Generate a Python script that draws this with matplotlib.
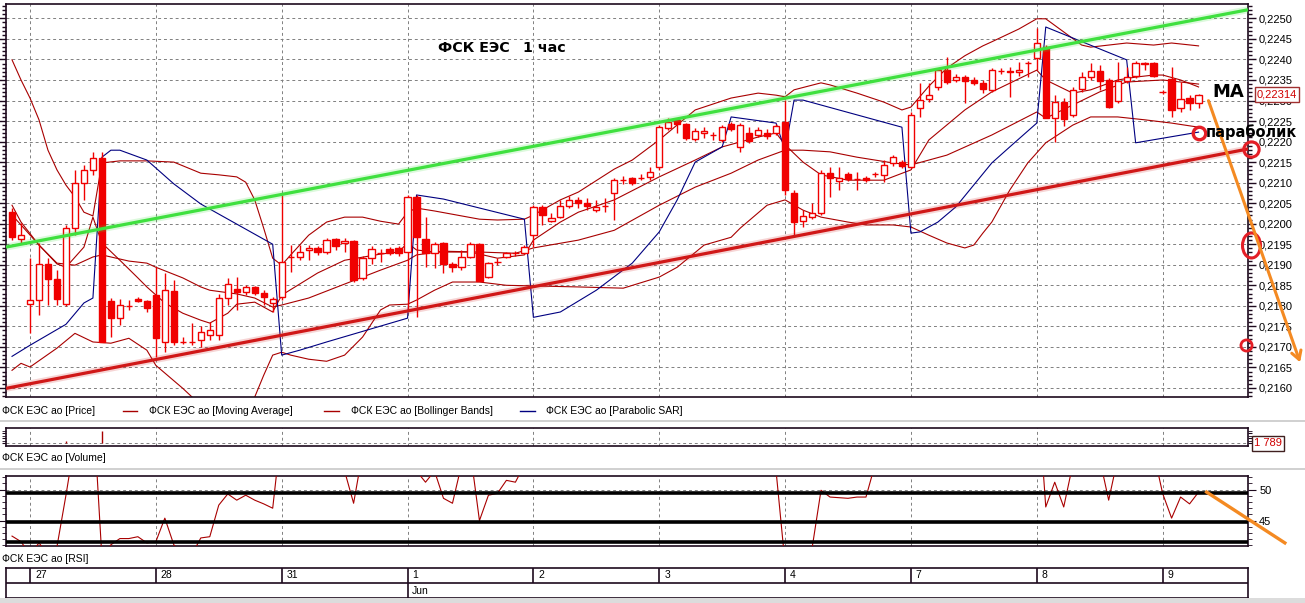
import numpy as np
import matplotlib
matplotlib.use('Agg')
import matplotlib.pyplot as plt
from matplotlib.lines import Line2D
from matplotlib.patches import Rectangle
from matplotlib.path import Path
from matplotlib.transforms import Affine2D
from matplotlib.ticker import MultipleLocator, FuncFormatter, FixedLocator

# ---------------- data ----------------
first_k = -2
opens = [0.22028,0.21963,0.21804,0.21814,0.21902,0.21865,0.21804,0.21989,0.22099,0.22131,
0.22160,0.21811,0.21770,0.21799,0.21816,0.21811,0.21826,0.21712,0.21836,0.21712,
0.21712,0.21716,0.21729,0.21729,0.21819,0.21841,0.21833,0.21846,0.21831,0.21807,
0.21821,0.21919,0.21919,0.21936,0.21941,0.21931,0.21963,0.21953,0.21958,0.21868,
0.21916,0.21928,0.21938,0.21941,0.21931,0.22065,0.21963,0.21928,0.21953,0.21902,
0.21894,0.21919,0.21950,0.21870,0.21907,0.21919,0.21928,0.21928,0.21972,0.22041,
0.22006,0.22016,0.22043,0.22058,0.22050,0.22033,0.22043,0.22075,0.22106,0.22111,
0.22111,0.22114,0.22138,0.22233,0.22253,0.22243,0.22206,0.22221,0.22216,0.22204,
0.22243,0.22187,0.22221,0.22216,0.22221,0.22221,0.22248,0.22075,0.22006,0.22016,
0.22026,0.22123,0.22104,0.22121,0.22109,0.22111,0.22121,0.22119,0.22148,0.22150,
0.22138,0.22282,0.22304,0.22333,0.22374,0.22350,0.22357,0.22350,0.22343,0.22326,
0.22372,0.22372,0.22370,0.22391,0.22404,0.22430,0.22257,0.22296,0.22265,0.22328,
0.22357,0.22372,0.22350,0.22299,0.22348,0.22360,0.22391,0.22391,0.22321,0.22352,
0.22282,0.22306,0.22294]
highs = [0.22038,0.22002,0.21916,0.21953,0.21916,0.21887,0.21997,0.22131,0.22143,0.22175,
0.22175,0.21819,0.21816,0.21814,0.21821,0.21814,0.21894,0.21880,0.21863,0.21724,
0.21758,0.21751,0.21760,0.21829,0.21868,0.21870,0.21851,0.21848,0.21838,0.21821,
0.22070,0.21948,0.21948,0.21948,0.21946,0.21965,0.21965,0.21965,0.21960,0.21921,
0.21946,0.21938,0.21943,0.21946,0.22070,0.22070,0.22016,0.21955,0.21955,0.21907,
0.21936,0.21955,0.21953,0.21907,0.21916,0.21931,0.21933,0.21948,0.22045,0.22045,
0.22026,0.22058,0.22067,0.22065,0.22062,0.22058,0.22062,0.22111,0.22116,0.22114,
0.22121,0.22138,0.22240,0.22257,0.22257,0.22245,0.22233,0.22235,0.22223,0.22240,
0.22248,0.22245,0.22235,0.22235,0.22231,0.22243,0.22301,0.22082,0.22033,0.22050,
0.22131,0.22138,0.22138,0.22126,0.22126,0.22116,0.22126,0.22155,0.22167,0.22155,
0.22272,0.22343,0.22343,0.22379,0.22406,0.22365,0.22362,0.22357,0.22350,0.22379,
0.22379,0.22382,0.22394,0.22396,0.22477,0.22435,0.22314,0.22306,0.22333,0.22370,
0.22391,0.22387,0.22355,0.22394,0.22382,0.22396,0.22394,0.22394,0.22326,0.22382,
0.22345,0.22314,0.22316]
lows = [0.21960,0.21953,0.21733,0.21777,0.21802,0.21802,0.21799,0.21972,0.22058,0.22119,
0.21712,0.21724,0.21753,0.21790,0.21809,0.21785,0.21675,0.21687,0.21704,0.21707,
0.21704,0.21699,0.21716,0.21716,0.21802,0.21790,0.21826,0.21826,0.21802,0.21785,
0.21814,0.21882,0.21911,0.21911,0.21924,0.21926,0.21936,0.21931,0.21858,0.21863,
0.21902,0.21907,0.21924,0.21921,0.21790,0.21773,0.21894,0.21892,0.21880,0.21882,
0.21887,0.21916,0.21860,0.21868,0.21899,0.21916,0.21921,0.21926,0.21943,0.21997,
0.22004,0.22014,0.22038,0.22038,0.22033,0.22028,0.22028,0.22009,0.22097,0.22094,
0.22106,0.22106,0.22131,0.22228,0.22221,0.22204,0.22201,0.22209,0.22204,0.22199,
0.22226,0.22175,0.22197,0.22211,0.22206,0.22216,0.22070,0.21967,0.21992,0.22011,
0.22021,0.22065,0.22082,0.22104,0.22082,0.22101,0.22114,0.22101,0.22140,0.22136,
0.22136,0.22260,0.22296,0.22326,0.22340,0.22345,0.22294,0.22338,0.22318,0.22321,
0.22365,0.22309,0.22360,0.22357,0.22374,0.22257,0.22199,0.22238,0.22260,0.22321,
0.22350,0.22326,0.22282,0.22294,0.22343,0.22355,0.22374,0.22357,0.22316,0.22260,
0.22272,0.22277,0.22282]
closes = [0.21967,0.21972,0.21814,0.21902,0.21865,0.21816,0.21989,0.22099,0.22131,0.22160,
0.21712,0.21770,0.21802,0.21799,0.21811,0.21794,0.21721,0.21838,0.21712,0.21712,
0.21712,0.21736,0.21741,0.21819,0.21853,0.21833,0.21846,0.21831,0.21821,0.21816,
0.21907,0.21919,0.21931,0.21941,0.21931,0.21960,0.21946,0.21958,0.21863,0.21916,
0.21938,0.21928,0.21928,0.21928,0.22065,0.21967,0.21928,0.21950,0.21902,0.21894,
0.21919,0.21950,0.21860,0.21904,0.21907,0.21928,0.21928,0.21943,0.22041,0.22021,
0.22014,0.22043,0.22058,0.22050,0.22043,0.22041,0.22043,0.22106,0.22106,0.22099,
0.22111,0.22126,0.22235,0.22248,0.22243,0.22209,0.22226,0.22226,0.22216,0.22235,
0.22231,0.22240,0.22201,0.22228,0.22214,0.22238,0.22082,0.22004,0.22019,0.22026,
0.22123,0.22111,0.22111,0.22109,0.22109,0.22106,0.22121,0.22143,0.22162,0.22140,
0.22265,0.22301,0.22314,0.22374,0.22345,0.22357,0.22348,0.22343,0.22328,0.22374,
0.22372,0.22370,0.22374,0.22391,0.22440,0.22257,0.22296,0.22255,0.22326,0.22357,
0.22372,0.22348,0.22284,0.22348,0.22357,0.22391,0.22389,0.22360,0.22321,0.22277,
0.22304,0.22294,0.22314]

bbu_k = [-2,-1,0,1,2,3,4,5,6,7,8,10,13,16,19,21,23,24,25,26,27,28,29,30,31,33,35,37,39,41,
         42,43,45,48,50,52,55,56,59,61,65,67,70,74,78,81,83,84,85,88,89,92,95,97,98,100,102,
         104,106,107,110,112,113,115,117,118,122,125,127,130]
bbu_v = [0.22399,0.22350,0.22306,0.22253,0.22179,0.22131,0.22094,0.22065,0.22028,0.22019,
         0.22148,0.22153,0.22153,0.22150,0.22123,0.22119,0.22114,0.22101,0.22058,0.21989,
         0.21916,0.21899,0.21924,0.21948,0.21972,0.22004,0.22016,0.22016,0.22006,0.21999,
         0.22028,0.22038,0.22031,0.22019,0.22011,0.22009,0.22011,0.22021,0.22058,0.22077,
         0.22133,0.22155,0.22204,0.22277,0.22306,0.22318,0.22313,0.22309,0.22326,0.22343,
         0.22338,0.22318,0.22296,0.22277,0.22284,0.22335,0.22379,0.22409,0.22433,0.22443,
         0.22474,0.22499,0.22499,0.22467,0.22435,0.22430,0.22440,0.22435,0.22440,0.22433]
bbm_k = [-2,-1,1,3,5,7,8,11,13,14,17,19,20,23,25,27,28,31,35,39,42,43,46,50,54,56,61,65,70,74,
         78,81,84,86,89,92,96,98,102,107,112,113,116,119,122,126,130]
bbm_v = [0.22045,0.22004,0.21948,0.21904,0.21899,0.21919,0.21924,0.21909,0.21904,0.21894,
         0.21868,0.21846,0.21838,0.21829,0.21819,0.21797,0.21802,0.21819,0.21853,0.21887,
         0.21911,0.21924,0.21933,0.21931,0.21928,0.21941,0.21960,0.21984,0.22045,0.22089,
         0.22123,0.22155,0.22179,0.22179,0.22175,0.22162,0.22148,0.22143,0.22167,0.22216,
         0.22272,0.22257,0.22289,0.22321,0.22345,0.22350,0.22340]
bbl_k = [-2,-1,0,3,5,7,9,11,13,14,17,19,22,24,25,26,27,28,29,31,33,35,37,39,40,42,43,45,47,50,
         53,57,61,66,70,72,75,78,79,82,84,86,88,91,93,96,98,100,102,104,105,106,107,109,111,
         113,116,118,121,124,127,130]
bbl_v = [0.21643,0.21660,0.21651,0.21697,0.21733,0.21712,0.21709,0.21721,0.21692,0.21655,
         0.21599,0.21558,0.21521,0.21558,0.21578,0.21631,0.21680,0.21687,0.21680,0.21670,
         0.21665,0.21680,0.21724,0.21790,0.21802,0.21804,0.21814,0.21838,0.21858,0.21858,
         0.21850,0.21848,0.21846,0.21843,0.21870,0.21894,0.21948,0.21967,0.21989,0.22045,
         0.22058,0.22033,0.22016,0.22004,0.21997,0.21997,0.21992,0.21972,0.21953,0.21941,
         0.21948,0.21977,0.22004,0.22082,0.22148,0.22197,0.22240,0.22260,0.22260,0.22253,
         0.22245,0.22235]
ma_k = [-2,-1,1,3,4,6,7,8,10,12,13,15,17,19,20,22,23,25,27,28,32,35,39,41,42,43,45,49,52,55,
        56,59,61,65,70,74,77,81,83,84,86,88,91,95,98,100,104,107,112,113,116,118,121,123,125,
        126,128,130]
ma_v = [0.22021,0.21997,0.21948,0.21902,0.21894,0.21943,0.22016,0.21953,0.21911,0.21868,
        0.21846,0.21807,0.21782,0.21765,0.21758,0.21782,0.21804,0.21809,0.21785,0.21826,
        0.21880,0.21911,0.21926,0.21931,0.21953,0.21936,0.21931,0.21931,0.21916,0.21924,
        0.21960,0.22004,0.22028,0.22058,0.22114,0.22155,0.22187,0.22211,0.22221,0.22192,
        0.22150,0.22119,0.22106,0.22106,0.22131,0.22204,0.22277,0.22321,0.22374,0.22350,
        0.22318,0.22326,0.22350,0.22357,0.22362,0.22362,0.22350,0.22333]
psar_k = [-2,0,4,6,7,8,9,10,13,16,19,23,27,28,30,33,42,43,46,55,56,59,63,67,70,72,74,77,78,83,
          84,85,86,97,98,99,101,103,107,109,112,113,122,123,130]
psar_v = [0.21677,0.21704,0.21755,0.21807,0.21819,0.22162,0.22179,0.22179,0.22155,0.22097,
          0.22048,0.21999,0.21950,0.21680,0.21692,0.21712,0.21770,0.22070,0.22060,0.22011,
          0.21772,0.21785,0.21838,0.21904,0.21980,0.22058,0.22150,0.22187,0.22260,0.22245,
          0.22179,0.22301,0.22301,0.22235,0.21977,0.21980,0.22004,0.22041,0.22148,0.22187,
          0.22245,0.22479,0.22399,0.22197,0.22223]
rsi = [42.5,41.6,39.5,41.4,39.5,40.8,49.1,58,62,64,
       39,41.1,42.1,42.1,42.4,41.4,41.6,45.4,41.1,39.5,
       39.5,42.2,42.4,47.5,49.3,48.3,49.1,48.3,47.7,47.0,
       60,58,59,60,58,60,57,53,47.8,56,
       58,56,55,55,66,53,51.2,53,48.6,47.8,
       54,56,45.0,49.1,49.4,51.5,51.2,54,64,60,
       58,61,63,61,60,59,59,64,63,62,
       62,63,70,71,69,63,64,64,62,64,
       63,64,60,62,60,53,38,36,37,40.5,
       49.9,48.8,48.7,48.6,48.8,48.8,54,56,58,56,
       66,68,68,70,66,66,65,64,62,65,
       65,64,65,66,68,47.2,51.2,47.2,54,57,
       58,55,48.3,55,56,58,58,56,49.4,45.4,
       48.8,47.7,49.6]
vol_k = [4, 8]
vol_v = [2500, 12000]
last_volume = "1 789"
last_price = 0.22314

day_k = [0, 14, 28, 42, 56, 70, 84, 98, 112, 126]
day_labels = ['27', '28', '31', '1', '2', '3', '4', '7', '8', '9']
month_k = 42
month_label = 'Jun'

# hand-drawn objects on the chart
green_line = ([-2.67, 135.5], [0.21943, 0.22521])
red_line = ([-2.67, 135.5], [0.21599, 0.22182])
arrow_from = (131.0, 0.22306)
arrow_to = (141.4, 0.21656)
ring_small = (130.0, 0.22221)
ring_axis_top = (135.8, 0.22182)
ring_axis_mid = (135.8, 0.21948)
ring_axis_low = (135.3, 0.21704)
rsi_levels = [49.5, 44.8, 41.6]
rsi_arrow = ([130.9, 139.6], [49.6, 41.4])

# ---------------- layout ----------------
W, H = 1305, 603
fig = plt.figure(figsize=(W / 100, H / 100), dpi=100)
fig.patch.set_facecolor('white')

def rect(x0, y0, x1, y1):
    return [x0 / W, 1 - y1 / H, (x1 - x0) / W, (y1 - y0) / H]

def fx(x):
    return x / W

def fy(y):
    return 1 - y / H

XL = (-2.67, 135.5)
FRAME = '#1e0a1e'
GRID = '#808080'
RED = '#f00000'
LINE_RED = '#a80000'
NAVY = '#000080'
TICKFONT = dict(family=['Liberation Sans', 'DejaVu Sans'], size=8)
dash = (0, (3, 3))

def style_frame(a):
    for s in a.spines.values():
        s.set_color(FRAME)
        s.set_linewidth(1.2)

# ---------------- main price panel ----------------
ax = fig.add_axes(rect(6, 4, 1248, 397))
ax.set_xlim(*XL)
ax.set_ylim(0.21578, 0.22535)
style_frame(ax)
ax.set_xticks(day_k)
ax.tick_params(axis='x', bottom=False, labelbottom=False)
ax.yaxis.set_major_locator(MultipleLocator(0.0005))
ax.yaxis.set_minor_locator(MultipleLocator(0.0001))
ax.yaxis.set_major_formatter(FuncFormatter(lambda v, p: f"{v:.4f}".replace('.', ',')))
ax.tick_params(axis='y', which='both', left=True, right=True, labelleft=False,
               labelright=True, direction='out', color=FRAME)
ax.tick_params(axis='y', which='major', length=6, width=1, pad=2)
ax.tick_params(axis='y', which='minor', length=3, width=1)
for t in ax.get_yticklabels():
    t.set_fontfamily(TICKFONT['family'])
    t.set_fontsize(TICKFONT['size'])
ax.grid(True, which='major', color=GRID, ls=dash, lw=0.7, zorder=0)
ax.set_axisbelow(True)

ax.plot(bbu_k, bbu_v, color=LINE_RED, lw=0.8, zorder=2)
ax.plot(bbm_k, bbm_v, color=LINE_RED, lw=0.8, zorder=2)
ax.plot(bbl_k, bbl_v, color=LINE_RED, lw=0.8, zorder=2)
ax.plot(ma_k, ma_v, color=LINE_RED, lw=0.8, zorder=2)
ax.plot(psar_k, psar_v, color=NAVY, lw=0.8, zorder=2)

x = np.arange(first_k, first_k + len(opens))
o = np.array(opens); c = np.array(closes); h = np.array(highs); l = np.array(lows)
up = c >= o
ax.vlines(x, l, h, color=RED, lw=1, zorder=3)
bottom = np.minimum(o, c)
height = np.maximum(np.abs(c - o), 1e-7)
ax.bar(x[up], height[up], bottom=bottom[up], width=0.7, facecolor='white',
       edgecolor=RED, lw=1, zorder=4)
ax.bar(x[~up], height[~up], bottom=bottom[~up], width=0.7, facecolor=RED,
       edgecolor=RED, lw=1, zorder=4)

# trend lines with soft glow
for (lx, ly), col in [(green_line, '#3fe03f'), (red_line, '#d01818')]:
    ax.plot(lx, ly, color=col, lw=5, alpha=0.18, zorder=5, solid_capstyle='butt')
    ax.plot(lx, ly, color=col, lw=2.3, zorder=6, solid_capstyle='butt')

RING = '#e41e26'
ax.plot(*ring_small, marker='o', ms=9, mfc='none', mec=RING, mew=2.4, zorder=7, clip_on=False)
ax.plot(*ring_axis_top, marker='o', ms=11, mfc='none', mec=RING, mew=2.2, zorder=7, clip_on=False)
ell = Affine2D().scale(0.72, 1.0).transform_path(Path.unit_circle())
ax.plot(*ring_axis_mid, marker=ell, ms=18, mfc='none', mec=RING, mew=2.2, zorder=7, clip_on=False)
ax.plot(*ring_axis_low, marker='o', ms=8, mfc='none', mec=RING, mew=2.0, zorder=7, clip_on=False)

ax.annotate('', xy=arrow_to, xytext=arrow_from, annotation_clip=False,
            arrowprops=dict(arrowstyle='->,head_length=0.6,head_width=0.35',
                            color='#f48a22', lw=2.2), zorder=8)

# texts on the main panel
BOLD = dict(fontweight='bold', family=['DejaVu Sans'], ha='left', va='center')
fig.text(fx(438), fy(48), 'ФСК ЕЭС', fontsize=10.3, **BOLD)
fig.text(fx(523), fy(48), '1 час', fontsize=10.3, **BOLD)
fig.text(fx(1212), fy(92), 'МА', fontsize=13, **BOLD)
fig.text(fx(1206), fy(132), 'параболик', fontsize=10.5, zorder=9, **BOLD)
fig.text(fx(1257), fy(94.5), f"{last_price:.5f}".replace('.', ','), color='#d00000',
         fontsize=8, family=TICKFONT['family'], ha='left', va='center',
         bbox=dict(boxstyle='square,pad=0.2', fc='white', ec='#a03030', lw=1), zorder=10)

# ---------------- legend row ----------------
LEGF = dict(family=['Liberation Sans', 'DejaVu Sans'], size=7.5)
ly = fy(410.5)
fig.text(fx(2), ly, 'ФСК ЕЭС ao [Price]', ha='left', va='center', **LEGF)
for x0, x1, col, txt, tx in [(123, 137, LINE_RED, 'ФСК ЕЭС ao [Moving Average]', 149),
                             (324, 339, LINE_RED, 'ФСК ЕЭС ao [Bollinger Bands]', 351),
                             (520, 535, NAVY, 'ФСК ЕЭС ao [Parabolic SAR]', 546)]:
    fig.add_artist(Line2D([fx(x0), fx(x1)], [ly, ly], color=col, lw=1, transform=fig.transFigure))
    fig.text(fx(tx), ly, txt, ha='left', va='center', **LEGF)
for yy in (421, 469):
    fig.add_artist(Line2D([0, 1], [fy(yy), fy(yy)], color='#c8c8c8', lw=1.2,
                          transform=fig.transFigure))

# ---------------- volume panel ----------------
av = fig.add_axes(rect(6, 428, 1248, 446))
av.set_xlim(*XL)
av.set_ylim(-3000, 15000)
style_frame(av)
av.set_xticks(day_k)
av.tick_params(axis='x', bottom=False, labelbottom=False)
av.yaxis.set_major_locator(FixedLocator([0, 5000, 10000]))
av.yaxis.set_minor_locator(FixedLocator([2500, 7500, 12500]))
av.tick_params(axis='y', which='both', left=True, right=True, labelleft=False,
               labelright=False, direction='out', color=FRAME, length=3)
av.grid(True, axis='x', color=GRID, ls=dash, lw=0.7)
av.axhline(0, color=GRID, ls=dash, lw=0.7)
av.vlines(vol_k, 0, vol_v, color=LINE_RED, lw=1)
fig.text(fx(1254), fy(443.5), last_volume, color='#d00000', fontsize=8,
         family=TICKFONT['family'], ha='left', va='center',
         bbox=dict(boxstyle='square,pad=0.2', fc='white', ec='#402020', lw=1))
fig.text(fx(2), fy(458), 'ФСК ЕЭС ao [Volume]', ha='left', va='center', **LEGF)

# ---------------- RSI panel ----------------
ar = fig.add_axes(rect(6, 476, 1248, 546))
ar.set_xlim(*XL)
ar.set_ylim(40.9, 52.2)
style_frame(ar)
ar.set_xticks(day_k)
ar.tick_params(axis='x', bottom=False, labelbottom=False)
ar.yaxis.set_major_locator(FixedLocator([45, 50]))
ar.yaxis.set_minor_locator(MultipleLocator(1))
ar.tick_params(axis='y', which='both', left=True, right=True, labelleft=False,
               labelright=True, direction='out', color=FRAME)
ar.tick_params(axis='y', which='major', length=6, pad=2)
ar.tick_params(axis='y', which='minor', length=3)
for t in ar.get_yticklabels():
    t.set_fontfamily(TICKFONT['family'])
    t.set_fontsize(TICKFONT['size'])
ar.grid(True, which='major', color=GRID, ls=dash, lw=0.7)
ar.plot(x, rsi, color=LINE_RED, lw=0.8, zorder=3)
for lv in rsi_levels:
    ar.axhline(lv, color='black', lw=2.6, zorder=4)
ar.plot(*rsi_arrow, color='#f48a22', lw=2.4, clip_on=False, zorder=5)
fig.text(fx(2), fy(559), 'ФСК ЕЭС ao [RSI]', ha='left', va='center', **LEGF)

# ---------------- date panel ----------------
ad = fig.add_axes(rect(6, 568, 1248, 598))
ad.set_xlim(*XL)
ad.set_ylim(0, 2)
style_frame(ad)
ad.set_xticks([]); ad.set_yticks([])
ad.axhline(1, color=FRAME, lw=1.2)
ad.vlines(day_k, 1, 2, color=FRAME, lw=1.2)
ad.vlines([month_k], 0, 1, color=FRAME, lw=1.2)
for k, lab in zip(day_k, day_labels):
    ad.text(k + 0.55, 1.5, lab, ha='left', va='center', **LEGF)
ad.text(month_k + 0.45, 0.5, month_label, ha='left', va='center', **LEGF)

fig.add_artist(Rectangle((0, 0), 1, fy(598), transform=fig.transFigure,
                         facecolor='#dcdcdc', edgecolor='none'))

fig.savefig('out.png', dpi=100, facecolor='white')
